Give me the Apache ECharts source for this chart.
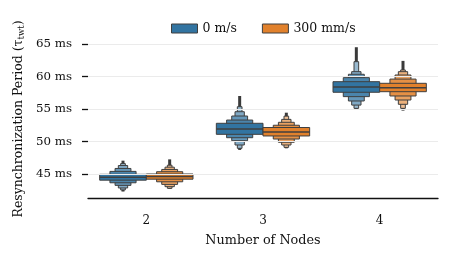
<!DOCTYPE html>
<html><head><meta charset="utf-8">
<script src="https://cdn.jsdelivr.net/npm/echarts@6/dist/echarts.min.js"></script>
<style>html,body{margin:0;padding:0;background:#fff}#c{width:451px;height:260px}</style>
</head><body><div id="c"></div>
<script>
const categories = ['2', '3', '4'];
const seriesNames = ['0 m/s', '300 mm/s'];
const yTicks = [45, 50, 55, 60, 65];

// 0 m/s : letter values per category (level 1 = IQR box ... level 5)
const median0 = [44.5, 51.92, 58.38];
const lower0 = [[44.05, 43.65, 43.25, 42.85, 42.55], [51.1, 50.58, 50.12, 49.46, 48.95], [57.57, 56.9, 56.23, 55.6, 55.1]];
const upper0 = [[44.95, 45.4, 45.85, 46.3, 46.6], [52.8, 53.3, 53.92, 54.58, 55.35], [59.2, 59.82, 60.34, 60.74, 62.28]];
const outMin0 = [42.3, 48.7, 54.85];
const outMax0 = [47.05, 57.0, 64.5];

// 300 mm/s
const median1 = [44.6, 51.45, 58.28];
const lower1 = [[44.2, 43.8, 43.4, 43.05, 42.8], [50.85, 50.38, 49.88, 49.46, 49.1], [57.66, 57.0, 56.38, 55.72, 55.1]];
const upper1 = [[45.0, 45.35, 45.7, 46.05, 46.35], [52.15, 52.5, 52.95, 53.4, 53.9], [58.95, 59.6, 60.23, 60.74, 61.0]];
const outMin1 = [42.7, 48.95, 54.75];
const outMax1 = [47.25, 54.43, 62.4];

const baseColors = ['#3274a1', '#e1812c'];
const FONT = 'DejaVu Serif';
const EDGE = '#3f3f3f';
const relW = [1, 0.56, 0.34, 0.2, 0.1];
const lightF = [0, 0.12, 0.25, 0.38, 0.5];

function mix(hex, f) {
  const r = parseInt(hex.slice(1, 3), 16), g = parseInt(hex.slice(3, 5), 16), b = parseInt(hex.slice(5, 7), 16);
  const m = v => Math.round(v + (255 - v) * f);
  return 'rgb(' + m(r) + ',' + m(g) + ',' + m(b) + ')';
}

function buildData(med, lo, up, mn, mx) {
  return categories.map((c, i) => [i, med[i], mn[i], mx[i]].concat(lo[i], up[i]));
}

function makeRender(si) {
  const cols = lightF.map(f => mix(baseColors[si], f));
  return function (params, api) {
    const ci = api.value(0);
    const band = api.size([1, 0])[0];
    const boxW = band * 0.4;
    const cx = api.coord([ci, 50])[0] + (si === 0 ? -boxW / 2 : boxW / 2);
    const Y = v => api.coord([ci, v])[1];
    const children = [];
    const yTop = Y(api.value(3)), yBot = Y(api.value(2));
    children.push({ type: 'rect', shape: { x: cx - 1.5, y: yTop, width: 3, height: yBot - yTop }, style: { fill: '#3a3a3a' } });
    for (let k = 4; k >= 0; k--) {
      const l = api.value(4 + k), u = api.value(9 + k);
      const w = boxW * relW[k];
      const y1 = Y(u), y2 = Y(l);
      children.push({ type: 'rect', shape: { x: cx - w / 2, y: y1, width: w, height: y2 - y1 },
        style: { fill: cols[k], stroke: EDGE, lineWidth: 1 } });
    }
    const ym = Y(api.value(1));
    children.push({ type: 'line', shape: { x1: cx - boxW / 2, y1: ym, x2: cx + boxW / 2, y2: ym }, style: { stroke: EDGE, lineWidth: 1.5 } });
    return { type: 'group', children };
  };
}

const chart = echarts.init(document.getElementById('c'), null, { renderer: 'canvas' });
chart.setOption({
  animation: false,
  backgroundColor: '#ffffff',
  grid: { left: 88, right: 13, top: 30, bottom: 61.5, containLabel: false },
  legend: {
    data: seriesNames, top: 17, left: 166, icon: 'rect', itemWidth: 26, itemHeight: 9, itemGap: 25,
    itemStyle: { borderColor: EDGE, borderWidth: 1 },
    textStyle: { fontFamily: FONT, fontSize: 12.5, color: '#111' }
  },
  xAxis: {
    type: 'category', data: categories, boundaryGap: true,
    axisLine: { lineStyle: { color: '#111', width: 1.3 } },
    axisTick: { alignWithLabel: true, length: 5, lineStyle: { color: '#111', width: 1.2 } },
    axisLabel: { fontFamily: FONT, fontSize: 12, color: '#111', margin: 16 },
    name: 'Number of Nodes', nameLocation: 'middle', nameGap: 36,
    nameTextStyle: { fontFamily: FONT, fontSize: 12.8, color: '#111' },
    splitLine: { show: false }
  },
  yAxis: {
    type: 'value', min: 41.23, max: 67.15,
    axisLine: { show: false },
    axisTick: { show: true, customValues: yTicks, length: 6, lineStyle: { color: '#111', width: 1.3 } },
    axisLabel: { customValues: yTicks, formatter: '{value} ms', fontFamily: FONT, fontSize: 11.8, color: '#111', margin: 16 },
    splitLine: { show: false }
  },
  graphic: [{
    type: 'text', x: 19, y: 119, rotation: Math.PI / 2,
    style: {
      text: '{a|Resynchronization Period (}{t|τ}{s|twt}{a|)}',
      align: 'center', verticalAlign: 'middle',
      rich: {
        a: { fontFamily: FONT, fontSize: 12.5, fill: '#111' },
        t: { fontFamily: FONT, fontSize: 12.5, fill: '#111' },
        s: { fontFamily: FONT, fontSize: 8.5, fill: '#111', padding: [5, 0, 0, 0] }
      }
    }
  }],
  series: [
    {
      type: 'line', data: [], z: 0, silent: true,
      markLine: {
        silent: true, symbol: ['none', 'none'], label: { show: false },
        lineStyle: { color: '#ebebeb', width: 1, type: 'solid' },
        data: yTicks.map(v => ({ yAxis: v }))
      }
    },
    { name: seriesNames[0], type: 'custom', z: 3, renderItem: makeRender(0),
      itemStyle: { color: baseColors[0] }, encode: { x: 0, y: 1 },
      data: buildData(median0, lower0, upper0, outMin0, outMax0) },
    { name: seriesNames[1], type: 'custom', z: 3, renderItem: makeRender(1),
      itemStyle: { color: baseColors[1] }, encode: { x: 0, y: 1 },
      data: buildData(median1, lower1, upper1, outMin1, outMax1) }
  ]
});
</script></body></html>
